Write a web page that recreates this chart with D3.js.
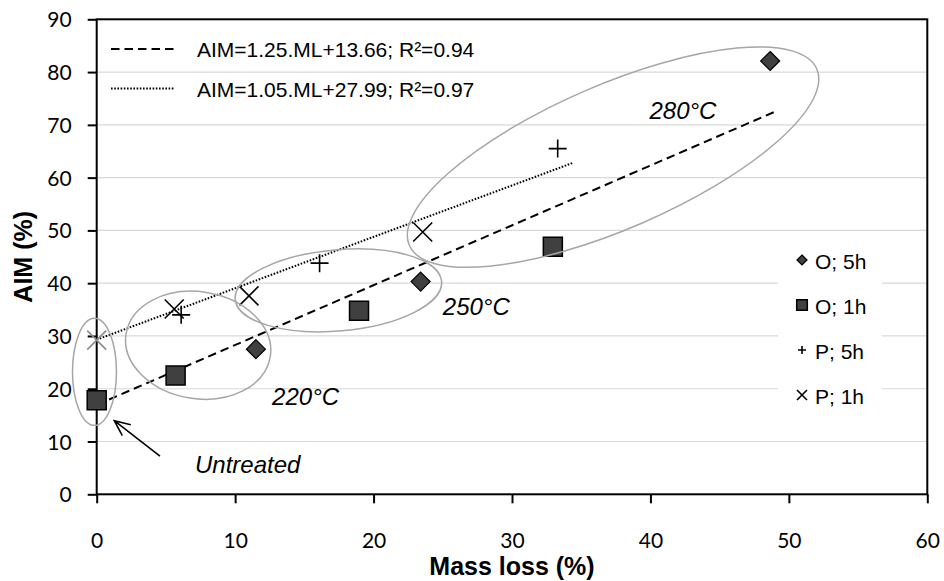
<!DOCTYPE html>
<html lang="en">
  <head>
    <meta charset="utf-8" />
    <title>AIM vs mass loss</title>
    <script src="https://d3js.org/d3.v7.min.js"></script>
    <style>
      body { margin: 0; background: #fff; }
      svg { display: block; }
      .tick-label { font-family: Lato, "Open Sans", sans-serif; font-size: 21px; fill: #000; }
      .axis-title { font-family: "Liberation Sans", Arial, sans-serif; font-size: 25px; font-weight: bold; fill: #000; }
      .legend-text { font-family: "Liberation Sans", Arial, sans-serif; font-size: 21px; fill: #000; }
      .zone-label { font-family: "Liberation Sans", Arial, sans-serif; font-size: 24px; font-style: italic; fill: #000; }
    </style>
  </head>
  <body>
    <div id="chart"></div>
    <script>
      // ticks
      var xTicks = [0, 10, 20, 30, 40, 50, 60];
      var yTicks = [0, 10, 20, 30, 40, 50, 60, 70, 80, 90];

      // series (mass loss %, AIM %)
      var o5hMassLoss = [11.5, 23.4, 48.65];
      var o5hAim = [27.5, 40.3, 82.1];
      var o1hMassLoss = [0.0, 5.7, 18.95, 32.95];
      var o1hAim = [17.8, 22.5, 34.8, 46.9];
      var p5hMassLoss = [6.1, 16.1, 33.3];
      var p5hAim = [34.0, 43.8, 65.5];
      var p1hMassLoss = [0.0, 5.6, 11.0, 23.55];
      var p1hAim = [29.2, 35.1, 37.6, 49.7];

      var seriesNames = ["O; 5h", "O; 1h", "P; 5h", "P; 1h"];

      // trend lines as drawn: [start, end] in (mass loss, AIM)
      var trendO = [[0, 16.95], [49.0, 72.5]];
      var trendP = [[0, 29.3], [34.4, 62.8]];
      var trendLabels = ["AIM=1.25.ML+13.66; R\u00b2=0.94", "AIM=1.05.ML+27.99; R\u00b2=0.97"];

      // treatment zones: label, label anchor and ellipse centre (data units)
      var zoneNames = ["Untreated", "220\u00b0C", "250\u00b0C", "280\u00b0C"];
      var zoneLabelAt = [[7.1, 4.1], [12.67, 16.9], [25.0, 33.96], [39.93, 71.2]];
      var zoneCentres = [[-0.16, 23.2], [7.33, 28.24], [17.46, 38.64], [37.3, 63.88]];
      var arrowUntreated = [[4.57, 7.25], [1.27, 13.94]];

      var width = 944, height = 581;
      var plotL = 96.7, plotR = 927.3, plotT = 19.3, plotB = 494.3;

      var x = d3.scaleLinear().domain([0, 60]).range([plotL, plotR]);
      var y = d3.scaleLinear().domain([0, 90]).range([plotB, plotT]);

      var svg = d3.select("#chart").append("svg")
        .attr("width", width).attr("height", height);

      // gridlines
      svg.append("g").selectAll("line")
        .data(yTicks.filter(function (d) { return d > 0 && d < 90; }))
        .enter().append("line")
        .attr("x1", plotL).attr("x2", plotR)
        .attr("y1", function (d) { return y(d); })
        .attr("y2", function (d) { return y(d); })
        .attr("stroke", "#d9d9d9").attr("stroke-width", 1.2);

      // axes
      var xAxis = d3.axisBottom(x).tickValues(xTicks).tickSize(9).tickFormat(d3.format("d"));
      var yAxis = d3.axisLeft(y).tickValues(yTicks).tickSize(9).tickFormat(d3.format("d"));

      var gx = svg.append("g").attr("transform", "translate(0," + plotB + ")").call(xAxis);
      var gy = svg.append("g").attr("transform", "translate(" + plotL + ",0)").call(yAxis);
      [gx, gy].forEach(function (g) {
        g.attr("font-size", null).attr("font-family", null);
        g.select(".domain").remove();
        g.selectAll(".tick line").attr("stroke", "#000").attr("stroke-width", 2);
        g.selectAll(".tick text").attr("class", "tick-label");
      });
      gx.selectAll(".tick text").attr("y", 54).attr("dy", 0);
      gy.selectAll(".tick text").attr("x", -25).attr("dy", "0.36em");

      // frame
      svg.append("rect")
        .attr("x", plotL).attr("y", plotT)
        .attr("width", plotR - plotL).attr("height", plotB - plotT)
        .attr("fill", "none").attr("stroke", "#000").attr("stroke-width", 2);

      // right-hand legend box (hides gridlines)
      var lg = svg.append("g");
      lg.append("rect").attr("x", 778).attr("y", 238).attr("width", 104).attr("height", 186).attr("fill", "#fff");

      // trend lines
      var line = d3.line().x(function (d) { return x(d[0]); }).y(function (d) { return y(d[1]); });
      svg.append("path").attr("d", line(trendO)).attr("fill", "none")
        .attr("stroke", "#000").attr("stroke-width", 2).attr("stroke-dasharray", "8.5,5");
      svg.append("path").attr("d", line(trendP)).attr("fill", "none")
        .attr("stroke", "#000").attr("stroke-width", 2).attr("stroke-dasharray", "1.6,1.6");

      // marker shapes
      function diamond(r) { return "M0," + -r + "L" + r + ",0L0," + r + "L" + -r + ",0Z"; }
      function square(r) { return "M" + -r + "," + -r + "H" + r + "V" + r + "H" + -r + "Z"; }
      function plus(r) { return "M" + -r + ",0H" + r + "M0," + -r + "V" + r; }
      function cross(r) { return "M" + -r + "," + -r + "L" + r + "," + r + "M" + r + "," + -r + "L" + -r + "," + r; }

      function pairs(xs, ys) { return xs.map(function (v, i) { return [v, ys[i]]; }); }

      var series = [
        { pts: pairs(o5hMassLoss, o5hAim), shape: diamond, r: 9.5, fill: "#404040", sw: 1.2, lr: 5 },
        { pts: pairs(o1hMassLoss, o1hAim), shape: square, r: 9.5, fill: "#404040", sw: 1.5, lr: 5.3 },
        { pts: pairs(p5hMassLoss, p5hAim), shape: plus, r: 9, fill: "none", sw: 1.6, lr: 4 },
        { pts: pairs(p1hMassLoss, p1hAim), shape: cross, r: 9.5, fill: "none", sw: 1.6, lr: 5 }
      ];

      series.forEach(function (s, si) {
        svg.append("g").selectAll("path")
          .data(s.pts).enter().append("path")
          .attr("transform", function (d) { return "translate(" + x(d[0]) + "," + y(d[1]) + ")"; })
          .attr("d", s.shape(s.r))
          .attr("fill", s.fill)
          .attr("stroke", function (d, i) { return si === 3 && i === 0 ? "#8c8c8c" : "#000"; })
          .attr("stroke-width", s.sw);
      });

      // zone ellipses (radii and tilt in px)
      var ellipseGeom = [[22, 53.5, 0], [73, 53.5, 9], [103.6, 40.6, -5], [222, 72, -23.4]];
      svg.append("g").selectAll("ellipse")
        .data(zoneCentres).enter().append("ellipse")
        .attr("transform", function (d, i) {
          return "translate(" + x(d[0]) + "," + y(d[1]) + ") rotate(" + ellipseGeom[i][2] + ")";
        })
        .attr("rx", function (d, i) { return ellipseGeom[i][0]; })
        .attr("ry", function (d, i) { return ellipseGeom[i][1]; })
        .attr("fill", "none").attr("stroke", "#a6a6a6").attr("stroke-width", 1.5);

      svg.append("g").selectAll("text")
        .data(zoneNames).enter().append("text")
        .attr("class", "zone-label")
        .attr("x", function (d, i) { return x(zoneLabelAt[i][0]); })
        .attr("y", function (d, i) { return y(zoneLabelAt[i][1]); })
        .text(function (d) { return d; });

      // arrow to untreated samples
      var ax0 = x(arrowUntreated[0][0]), ay0 = y(arrowUntreated[0][1]);
      var ax1 = x(arrowUntreated[1][0]), ay1 = y(arrowUntreated[1][1]);
      var ang = Math.atan2(ay0 - ay1, ax0 - ax1);
      var head = 17, spread = 0.42;
      svg.append("path")
        .attr("d", "M" + ax0 + "," + ay0 + "L" + ax1 + "," + ay1 +
          "M" + (ax1 + head * Math.cos(ang - spread)) + "," + (ay1 + head * Math.sin(ang - spread)) +
          "L" + ax1 + "," + ay1 +
          "L" + (ax1 + head * Math.cos(ang + spread)) + "," + (ay1 + head * Math.sin(ang + spread)))
        .attr("fill", "none").attr("stroke", "#000").attr("stroke-width", 1.6);

      // series legend
      series.forEach(function (s, i) {
        var ly = 260 + i * 45;
        lg.append("path")
          .attr("transform", "translate(802," + ly + ")")
          .attr("d", s.shape(s.lr))
          .attr("fill", s.fill).attr("stroke", "#000").attr("stroke-width", s.sw);
        lg.append("text").attr("class", "legend-text")
          .attr("x", 815).attr("y", ly + 9).text(seriesNames[i]);
      });

      // trend legend
      var tl = svg.append("g");
      [["8.5,5", 49], ["1.6,1.6", 88.5]].forEach(function (d, i) {
        tl.append("line").attr("x1", 111).attr("x2", 175).attr("y1", d[1]).attr("y2", d[1])
          .attr("stroke", "#000").attr("stroke-width", 2).attr("stroke-dasharray", d[0]);
        tl.append("text").attr("class", "legend-text")
          .attr("x", 197).attr("y", d[1] + 8).text(trendLabels[i]);
      });

      // axis titles
      svg.append("text").attr("class", "axis-title")
        .attr("x", (plotL + plotR) / 2).attr("y", 575)
        .attr("text-anchor", "middle").text("Mass loss (%)");
      svg.append("text").attr("class", "axis-title")
        .attr("transform", "translate(32," + (plotT + plotB) / 2 + ") rotate(-90)")
        .attr("text-anchor", "middle").text("AIM (%)");
    </script>
  </body>
</html>
